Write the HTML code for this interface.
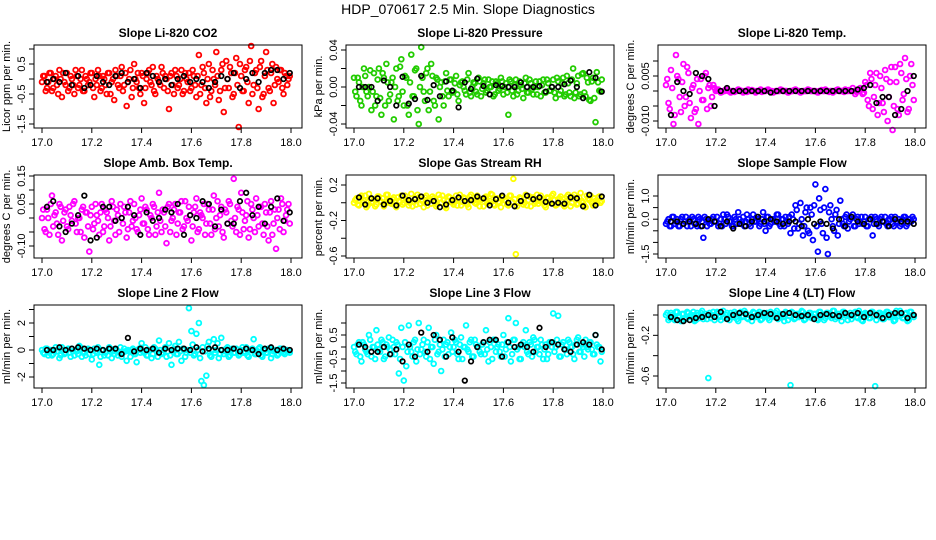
<!DOCTYPE html>
<html><head><meta charset="utf-8"><style>
html,body{margin:0;padding:0;background:#fff;}
svg{display:block;font-family:"Liberation Sans",sans-serif;}
</style></head><body>
<svg id="chart" width="936" height="540" viewBox="0 0 936 540" xmlns="http://www.w3.org/2000/svg">
<rect width="936" height="540" fill="#fff"/>
<text x="468" y="14" font-size="14" text-anchor="middle">HDP_070617  2.5 Min. Slope Diagnostics</text>
</svg>
<script>
const times=[17.00,17.01,17.02,17.03,17.04,17.05,17.06,17.07,17.08,17.09,17.10,17.11,17.12,17.13,17.14,17.15,17.16,17.17,17.18,17.19,17.20,17.21,17.22,17.23,17.24,17.25,17.26,17.27,17.28,17.29,17.30,17.31,17.32,17.33,17.34,17.35,17.36,17.37,17.38,17.39,17.40,17.41,17.42,17.43,17.44,17.45,17.46,17.47,17.48,17.49,17.50,17.51,17.52,17.53,17.54,17.55,17.56,17.57,17.58,17.59,17.60,17.61,17.62,17.63,17.64,17.65,17.66,17.67,17.68,17.69,17.70,17.71,17.72,17.73,17.74,17.75,17.76,17.77,17.78,17.79,17.80,17.81,17.82,17.83,17.84,17.85,17.86,17.87,17.88,17.89,17.90,17.91,17.92,17.93,17.94,17.95,17.96,17.97,17.98,17.99];
const times2=[17.005,17.015,17.025,17.035,17.045,17.055,17.065,17.075,17.085,17.095,17.105,17.115,17.125,17.135,17.145,17.155,17.165,17.175,17.185,17.195,17.205,17.215,17.225,17.235,17.245,17.255,17.265,17.275,17.285,17.295,17.305,17.315,17.325,17.335,17.345,17.355,17.365,17.375,17.385,17.395,17.405,17.415,17.425,17.435,17.445,17.455,17.465,17.475,17.485,17.495,17.505,17.515,17.525,17.535,17.545,17.555,17.565,17.575,17.585,17.595,17.605,17.615,17.625,17.635,17.645,17.655,17.665,17.675,17.685,17.695,17.705,17.715,17.725,17.735,17.745,17.755,17.765,17.775,17.785,17.795,17.805,17.815,17.825,17.835,17.845,17.855,17.865,17.875,17.885,17.895,17.905,17.915,17.925,17.935,17.945,17.955,17.965,17.975,17.985,17.995];
const blackTimes=[17.020,17.045,17.070,17.095,17.120,17.145,17.170,17.195,17.220,17.245,17.270,17.295,17.320,17.345,17.370,17.395,17.420,17.445,17.470,17.495,17.520,17.545,17.570,17.595,17.620,17.645,17.670,17.695,17.720,17.745,17.770,17.795,17.820,17.845,17.870,17.895,17.920,17.945,17.970,17.995];
const xTicks=[17.0,17.2,17.4,17.6,17.8,18.0];
const xTickLabels=["17.0","17.2","17.4","17.6","17.8","18.0"];
const titles=["Slope Li-820 CO2","Slope Li-820 Pressure","Slope Li-820 Temp.","Slope Amb. Box Temp.","Slope Gas Stream RH","Slope Sample Flow","Slope Line 2 Flow","Slope Line 3 Flow","Slope Line 4 (LT) Flow"];
const yTitles=["Licor ppm per min.","kPa per min.","degrees C per min.","degrees C per min.","percent per min.","ml/min per min.","ml/min per min.","ml/min per min.","ml/min per min."];
const colors=["#ff0000","#22cc00","#ff00ff","#ff00ff","#ffff00","#0000ff","#00ffff","#00ffff","#00ffff"];
const yTicks=[[1,0.5,0,-0.5,-1,-1.5],[0.04,0.02,0,-0.02,-0.04],[0.01,0.005,0,-0.005,-0.01],[0.15,0.1,0.05,0,-0.05,-0.1],[0.2,0,-0.2,-0.4,-0.6],[1,0.5,0,-0.5,-1,-1.5],[3,2,1,0,-1,-2],[1,0.5,0,-0.5,-1,-1.5],[0,-0.2,-0.4,-0.6]];
const yTickLabels=[["","0.5","","-0.5","","-1.5"],["0.04","","0.00","","-0.04"],["","0.005","","","-0.010"],["0.15","","0.05","","","-0.10"],["0.2","","-0.2","","-0.6"],["1.0","","0.0","","","-1.5"],["","2","","0","","-2"],["","0.5","","-0.5","","-1.5"],["","-0.2","","-0.6"]];
const co2=[-0.1,0.1,-0.3,0.2,-0.4,0.0,-0.2,0.3,-0.6,-0.1,0.2,-0.3,0.0,-0.5,0.1,-0.2,0.3,-0.4,0.0,-0.1,0.2,-0.6,-0.2,0.1,-0.3,0.0,-0.5,0.2,-0.1,-0.7,0.1,-0.3,0.4,-0.2,-0.9,0.0,-0.6,0.5,-0.1,-0.3,0.2,-0.8,0.0,0.3,-0.2,-0.4,0.1,-0.1,0.4,-0.3,0.0,-1.0,0.2,-0.5,0.1,-0.2,0.3,-0.4,0.0,0.2,-0.3,0.1,-0.6,0.8,-0.2,0.2,-0.8,0.5,-0.4,0.0,0.9,-0.7,0.3,-1.1,0.6,-0.3,0.2,-0.5,0.7,-1.6,0.1,-0.4,0.4,-0.8,1.1,-0.2,0.3,-1.0,0.6,-0.5,0.9,-0.3,0.2,-0.8,0.4,-0.1,0.3,-0.5,0.1,0.0];
const co2B=[0.1,-0.4,-0.1,0.2,-0.3,0.1,-0.5,0.0,0.2,-0.2,-0.4,0.1,-0.2,0.3,-0.3,0.0,-0.4,0.1,-0.2,0.2,-0.3,0.0,0.3,-0.4,0.1,-0.2,0.2,-0.5,0.0,0.3,-0.2,0.1,-0.4,0.2,-0.1,0.3,-0.3,0.0,0.2,-0.5,0.1,-0.3,0.2,-0.1,0.4,-0.5,0.0,-0.2,0.2,0.1,-0.4,0.1,-0.2,0.3,-0.3,0.0,-0.5,0.2,-0.1,-0.4,0.3,-0.2,0.1,-0.5,0.4,-0.3,0.0,-0.6,0.3,-0.2,0.1,-0.4,0.5,-0.3,0.0,0.4,-0.6,0.2,-0.2,0.5,-0.4,0.3,-0.1,0.6,-0.5,0.2,-0.3,0.4,-0.6,0.1,0.3,-0.4,0.5,-0.2,0.0,0.3,-0.3,0.2,-0.2,0.1];
const co2Black=[-0.1,0.0,-0.1,0.2,-0.2,0.1,-0.3,-0.2,0.1,-0.1,-0.2,0.1,0.2,-0.1,0.0,-0.3,0.2,0.1,-0.1,0.0,-0.2,0.0,0.1,-0.1,0.0,-0.1,-0.3,-0.1,0.1,0.0,0.2,-0.3,0.0,0.2,-0.1,0.2,0.3,0.3,0.0,0.2];
const pressure=[0.01,-0.01,0.005,-0.02,0.02,-0.005,0.0,-0.025,0.015,-0.01,0.02,-0.03,0.01,0.025,-0.015,0.005,-0.035,0.02,-0.01,0.03,-0.02,0.01,-0.03,0.035,-0.01,0.02,-0.04,0.043,-0.005,0.015,-0.025,0.025,-0.015,0.01,-0.035,0.005,-0.02,0.015,-0.01,0.008,-0.005,0.012,-0.015,0.005,0.0,-0.008,0.015,-0.01,0.005,-0.005,0.01,-0.01,0.004,-0.006,0.008,0.0,-0.01,0.006,-0.004,0.01,-0.008,0.004,-0.03,0.006,-0.01,0.008,-0.004,0.002,-0.012,0.01,-0.006,0.004,-0.008,0.006,0.0,-0.01,0.008,-0.006,0.004,-0.004,0.008,-0.012,0.006,-0.004,0.01,-0.008,0.004,-0.01,0.02,-0.006,0.012,-0.008,0.015,-0.01,0.005,-0.015,0.01,-0.038,0.005,-0.005];
const pressureB=[-0.005,0.01,-0.015,0.0,0.012,-0.01,0.018,-0.005,-0.02,0.008,-0.012,0.015,-0.02,0.005,-0.008,0.01,0.0,-0.015,0.022,-0.005,0.012,-0.02,0.005,-0.01,0.018,-0.025,0.0,0.01,-0.015,0.02,-0.005,0.012,-0.02,0.008,0.0,-0.01,0.006,-0.004,0.008,-0.006,0.004,-0.008,0.002,0.006,-0.004,0.008,-0.006,0.0,0.004,-0.008,0.006,-0.002,0.008,-0.004,0.0,0.006,-0.008,0.004,-0.002,0.006,0.0,-0.006,0.008,-0.004,0.002,-0.008,0.006,-0.002,0.004,-0.006,0.008,-0.002,0.0,-0.008,0.006,0.002,-0.006,0.008,-0.004,0.0,-0.006,0.01,-0.008,0.004,-0.01,0.012,-0.006,0.008,-0.012,0.004,-0.01,0.014,-0.006,0.01,-0.014,0.006,-0.012,0.016,-0.004,0.008];
const pressureBlack=[0.0,0.0,0.0,-0.015,0.007,0.0,-0.02,0.011,-0.018,-0.013,0.012,-0.014,0.002,-0.01,0.006,-0.004,-0.022,0.005,-0.002,0.009,0.001,-0.008,0.002,0.001,0.0,0.0,0.005,0.0,0.0,0.001,-0.005,0.0,0.0,0.003,0.007,0.0,-0.012,0.016,0.01,-0.005];
const temp=[0.002,-0.004,0.007,-0.011,0.012,0.004,-0.007,0.009,-0.002,0.006,-0.009,0.002,-0.006,-0.011,0.004,-0.003,0.006,0.001,-0.005,0.002,0.0,0.0005,-0.0005,0.0,0.0005,0.0,-0.0005,0.0,0.0,0.0005,0.0,-0.0005,0.0,0.0005,0.0,0.0,-0.0005,0.0,0.0005,0.0,0.0,0.0005,0.0,-0.0005,0.0,0.0,0.0005,0.0,0.0,-0.0005,0.0,0.0,0.0005,0.0,-0.0005,0.0,0.0,0.0005,0.0,0.0,0.0,-0.0005,0.0,0.0,0.0005,0.0,0.0,-0.0005,0.0,0.0005,0.0,0.0,0.0005,0.0,0.0,0.001,-0.001,0.0,0.001,-0.001,0.003,-0.003,0.006,-0.006,0.002,-0.008,0.005,-0.004,0.007,-0.01,0.003,-0.013,0.008,-0.006,0.009,-0.003,0.011,-0.007,0.005,0.002];
const tempB=[0.004,-0.006,0.001,-0.008,0.005,-0.002,0.003,-0.005,0.008,-0.004,0.001,-0.007,0.004,0.0,-0.003,0.005,-0.006,0.002,-0.002,0.001,0.0003,0.0,-0.0003,0.0,0.0003,0.0,0.0,-0.0003,0.0,0.0003,0.0,0.0,-0.0003,0.0,0.0003,0.0,0.0,0.0,-0.0003,0.0,0.0003,0.0,0.0,-0.0003,0.0,0.0,0.0003,0.0,0.0,-0.0003,0.0,0.0003,0.0,0.0,-0.0003,0.0,0.0,0.0003,0.0,0.0,-0.0003,0.0,0.0003,0.0,0.0,-0.0003,0.0,0.0,0.0003,0.0,0.0,-0.0003,0.0,0.0003,0.0,0.0,-0.0003,0.0,0.0006,-0.0006,0.002,-0.005,0.004,-0.002,0.006,-0.004,0.001,-0.007,0.004,-0.002,0.008,-0.005,0.003,-0.008,0.006,-0.001,0.004,-0.006,0.009,-0.003];
const tempBlack=[-0.008,0.003,0.0,-0.001,0.006,0.005,0.004,-0.005,0.0,0.001,0,0,0,0,0,0,-0.0005,0,0,0,0,0,0,0,0,0,0,0,0,0,0.0005,0.001,0.002,-0.004,-0.002,-0.002,-0.008,-0.006,0.0,0.005];
const amb=[0.0,-0.04,0.03,-0.06,0.08,0.01,-0.02,0.05,-0.08,0.02,-0.03,0.04,-0.01,0.06,-0.05,0.0,0.03,-0.07,0.02,-0.12,0.04,-0.02,0.01,-0.06,0.05,-0.03,0.02,-0.08,0.06,-0.01,0.03,-0.05,0.0,0.04,-0.07,0.02,-0.03,0.05,-0.04,0.01,0.07,-0.02,0.03,-0.06,0.0,0.04,-0.03,0.09,-0.05,0.02,-0.09,0.05,-0.01,0.03,-0.06,0.02,0.06,-0.03,0.0,0.04,-0.08,0.02,0.07,-0.04,0.01,0.05,-0.02,0.03,-0.06,0.08,0.0,-0.03,0.04,-0.07,0.02,0.06,-0.01,0.14,-0.05,0.03,0.09,-0.04,0.01,-0.07,0.05,0.0,0.07,-0.03,0.04,-0.06,0.02,-0.08,0.06,-0.02,-0.11,0.03,0.07,-0.05,0.01,0.05];
const ambB=[0.03,-0.05,0.0,0.05,-0.03,0.02,-0.06,0.04,-0.01,0.03,-0.04,0.01,0.05,-0.02,0.0,-0.05,0.04,0.02,-0.03,0.01,-0.04,0.05,-0.01,0.02,-0.05,0.03,0.0,-0.03,0.04,-0.06,0.01,0.05,-0.02,0.02,-0.04,0.06,-0.01,0.0,-0.05,0.03,-0.02,0.04,-0.04,0.01,0.05,-0.06,0.02,-0.01,0.03,-0.03,0.04,-0.05,0.0,0.05,-0.02,0.02,-0.04,0.06,-0.01,0.01,-0.03,0.04,-0.05,0.02,0.0,-0.06,0.05,-0.02,0.03,-0.04,0.06,0.01,-0.05,0.03,-0.02,0.05,-0.03,0.0,0.04,-0.06,0.02,-0.01,0.06,-0.04,0.03,-0.05,0.01,0.04,-0.02,0.05,-0.03,0.02,-0.06,0.03,0.0,-0.04,0.05,-0.01,0.03,-0.02];
const ambBlack=[0.04,0.06,-0.03,-0.05,-0.02,0.01,0.08,-0.08,-0.07,0.04,0.04,-0.01,0.0,0.04,0.01,-0.06,0.02,-0.01,0.0,0.03,0.02,0.05,-0.06,0.01,0.0,0.06,0.05,-0.03,0.03,-0.02,-0.02,0.06,0.09,0.01,0.04,-0.02,0.04,0.07,-0.01,0.02];
const rh=[0.0,0.05,-0.03,0.08,0.02,-0.05,0.1,0.0,0.04,-0.02,0.07,0.01,-0.04,0.09,0.03,-0.01,0.06,-0.05,0.02,0.08,0.0,0.04,-0.03,0.1,0.01,-0.02,0.06,0.03,-0.05,0.08,0.02,-0.01,0.05,-0.04,0.09,0.0,0.03,-0.06,0.07,0.01,-0.02,0.08,0.04,-0.03,0.06,0.0,-0.05,0.09,0.02,-0.01,0.05,0.03,-0.04,0.07,0.0,0.1,-0.02,0.04,0.01,-0.05,0.06,0.02,-0.03,0.08,0.27,-0.58,0.0,0.05,-0.02,0.09,0.03,-0.04,0.06,0.01,-0.01,0.08,0.02,-0.05,0.05,0.0,0.1,-0.03,0.04,0.07,-0.02,0.01,0.09,-0.04,0.06,0.03,-0.01,0.11,0.0,-0.05,0.05,0.08,-0.03,0.02,0.06,0.0];
const rhB=[0.03,-0.02,0.06,0.0,0.08,-0.03,0.04,0.01,-0.04,0.07,0.02,0.05,-0.01,0.09,0.0,0.04,-0.03,0.06,0.01,-0.02,0.08,0.03,0.0,-0.04,0.05,0.09,-0.01,0.02,0.06,-0.03,0.04,0.07,0.0,-0.02,0.05,0.08,-0.04,0.02,0.06,0.0,0.03,-0.03,0.09,0.01,0.05,-0.02,0.07,0.03,0.0,0.08,-0.04,0.04,0.06,-0.01,0.02,0.09,-0.03,0.05,0.0,0.07,0.03,-0.02,0.08,0.01,0.04,-0.04,0.06,0.02,0.0,-0.03,0.07,0.05,-0.01,0.09,0.02,0.04,-0.03,0.06,0.0,0.08,0.03,-0.02,0.05,0.01,-0.04,0.07,0.04,0.0,0.09,-0.02,0.06,0.02,-0.03,0.08,0.03,0.0,0.05,-0.01,0.07,0.02];
const rhBlack=[0.06,-0.02,0.05,0.05,-0.02,0.02,-0.03,0.08,0.03,0.04,0.07,0.0,0.02,-0.05,-0.02,0.03,0.06,0.02,0.03,0.07,0.05,-0.03,0.04,0.08,0.0,-0.04,0.02,0.08,0.04,0.06,0.01,-0.01,0.0,-0.01,0.06,0.05,-0.04,0.09,-0.03,0.07];
const sample=[-0.2,0.0,-0.3,0.1,-0.1,-0.3,0.0,-0.2,0.1,-0.1,-0.3,0.0,-0.2,0.1,-0.3,-0.8,0.0,-0.1,-0.2,0.1,-0.1,-0.3,0.0,0.2,-0.2,0.1,-0.1,-0.3,0.0,0.3,-0.2,0.1,-0.1,0.0,-0.3,0.2,-0.1,0.0,-0.2,0.3,-0.5,0.1,-0.2,0.0,-0.1,0.2,-0.3,0.0,0.1,-0.2,-0.6,0.0,0.6,-0.4,0.7,-0.7,0.3,-0.5,0.5,-0.9,1.5,-1.4,0.4,-0.6,1.3,-1.5,0.6,-0.3,0.2,-0.7,0.8,-0.2,0.1,-0.4,0.0,0.2,-0.3,0.1,-0.1,-0.2,0.1,-0.3,0.0,-0.7,0.1,-0.2,0.0,-0.1,0.1,-0.3,0.0,-0.2,0.1,-0.1,-0.3,0.0,0.1,-0.2,0.0,0.1];
const sampleB=[-0.1,-0.3,0.1,-0.2,0.0,-0.3,0.1,-0.1,-0.3,0.0,0.1,-0.2,-0.3,0.0,-0.1,0.1,-0.3,-0.2,0.0,-0.1,0.1,-0.2,-0.3,0.0,0.2,-0.1,-0.3,0.1,-0.2,0.0,-0.1,-0.3,0.2,-0.2,0.0,-0.1,0.1,-0.3,0.0,-0.2,0.1,-0.3,0.0,-0.1,0.2,-0.2,0.0,-0.3,-0.1,0.1,0.2,-0.4,0.4,-0.2,0.0,-0.3,0.5,-0.6,0.2,0.6,-0.3,0.9,-0.2,0.5,-0.8,0.3,0.0,-0.5,0.4,-0.2,0.0,-0.3,0.2,-0.1,0.1,-0.3,0.0,-0.2,0.1,-0.1,-0.3,0.0,0.1,-0.2,0.0,-0.3,0.1,-0.1,-0.2,0.0,0.1,-0.3,-0.1,0.0,-0.2,0.1,-0.3,0.0,-0.1,0.0];
const sampleBlack=[-0.1,-0.1,-0.2,-0.1,-0.2,-0.3,0.0,-0.1,-0.3,-0.1,-0.4,-0.2,-0.3,-0.1,0.1,-0.1,0.0,-0.1,-0.2,-0.1,-0.1,-0.3,0.0,-0.2,-0.1,-0.2,-0.4,0.0,-0.3,0.1,-0.1,-0.2,0.0,-0.2,-0.1,-0.3,0.0,-0.1,-0.1,-0.2];
const line2=[0.0,-0.3,0.1,-0.2,-0.4,0.0,-0.1,-0.6,0.2,-0.3,0.0,-0.2,0.1,-0.4,-0.1,0.3,-0.5,-0.2,0.0,-0.3,-0.7,0.1,-0.2,-1.1,0.0,-0.4,-0.1,0.2,-0.6,-0.3,0.0,-0.2,-0.5,0.1,-0.8,-0.1,0.0,-0.3,-0.9,0.1,0.5,-0.2,-0.4,0.0,-0.6,0.2,-0.1,0.7,-0.3,0.0,-0.5,0.5,-1.1,0.1,-0.3,0.6,-0.8,0.0,-0.2,3.1,1.4,-0.4,1.2,2.0,-2.3,-2.6,-1.9,0.6,-0.5,0.8,0.0,-0.6,0.9,-0.3,0.1,-0.5,0.0,-0.2,0.1,-0.4,0.0,-0.2,0.2,-0.5,0.0,0.8,-0.3,0.1,-0.4,0.0,-0.2,0.1,-0.6,-0.1,0.0,-0.3,0.1,-0.2,0.0,-0.1];
const line2B=[-0.2,0.1,-0.4,0.0,-0.3,0.2,-0.1,-0.4,0.0,-0.2,0.1,-0.5,-0.1,0.0,-0.3,0.2,-0.2,-0.4,0.1,0.0,-0.3,-0.1,0.2,-0.5,0.0,-0.2,-0.4,0.1,-0.1,0.0,-0.4,0.2,-0.2,-0.1,0.0,-0.5,0.1,-0.3,0.0,-0.2,-0.1,0.2,-0.4,0.0,-0.3,0.1,-0.5,0.0,-0.2,0.2,-0.1,-0.4,0.0,0.3,-0.3,-0.1,0.1,-0.5,0.0,-0.2,0.4,-0.3,0.0,-0.6,0.2,-0.1,0.3,-0.4,0.0,-0.2,0.5,-0.3,0.0,-0.1,0.2,-0.4,0.1,-0.2,0.0,-0.3,0.2,-0.1,-0.4,0.0,0.1,-0.3,-0.1,0.2,-0.5,0.0,-0.2,0.1,-0.3,0.0,-0.4,0.1,-0.1,-0.3,0.0,-0.2];
const line2Black=[0.0,0.0,0.2,0.0,0.1,0.2,0.1,0.0,0.1,0.0,0.1,0.1,-0.3,0.9,-0.1,0.1,0.0,0.1,-0.2,0.1,0.0,0.1,0.1,0.0,0.2,-0.1,0.1,0.2,0.0,0.0,0.1,-0.1,0.1,0.0,-0.3,0.1,0.2,0.0,0.1,0.0];
const line3=[0.0,-0.3,0.2,-0.6,0.1,-0.2,0.5,-0.4,0.0,0.7,-0.1,0.3,-0.5,0.1,0.4,-0.3,0.0,0.2,-1.1,0.8,-1.4,-0.8,0.9,-0.2,0.2,-0.6,1.0,-0.1,0.3,-0.4,0.8,0.0,-0.7,0.5,-0.2,-1.0,0.3,0.1,-0.3,0.6,0.0,0.2,-0.5,0.4,0.0,0.9,-0.2,0.3,-0.4,0.1,0.0,-0.3,0.2,0.7,-0.6,0.0,0.3,-0.2,0.1,-0.4,0.5,-0.1,1.2,-0.6,0.3,1.0,0.0,-0.5,0.2,0.7,-0.3,0.1,0.4,-0.2,0.0,0.3,-0.5,0.1,-0.3,0.2,1.4,0.0,1.3,-0.4,0.2,-0.1,0.3,0.0,-0.3,0.1,0.4,-0.2,0.0,0.3,-0.1,0.2,-0.3,0.5,0.0,-0.6];
const line3B=[-0.2,0.1,-0.4,0.2,-0.1,-0.3,0.3,0.0,-0.5,0.1,-0.2,0.2,-0.4,0.0,-0.1,0.3,-0.3,0.1,-0.5,0.0,0.2,-0.2,0.0,-0.4,0.3,-0.1,-0.3,0.1,-0.2,0.2,-0.5,0.0,0.3,-0.3,0.1,-0.1,-0.4,0.2,0.0,-0.2,0.3,-0.3,0.1,-0.5,0.0,-0.1,0.2,-0.4,0.3,0.0,-0.2,0.1,-0.3,-0.1,0.2,-0.5,0.3,0.0,-0.2,0.1,-0.4,0.2,0.0,-0.3,0.3,-0.1,-0.5,0.1,0.0,-0.2,0.2,-0.4,0.3,0.0,-0.3,0.1,-0.1,-0.5,0.2,0.0,-0.2,0.3,-0.4,0.1,-0.1,-0.3,0.2,0.0,-0.5,0.3,-0.2,0.1,-0.4,0.0,0.2,-0.1,-0.3,0.1,0.0,-0.2];
const line3Black=[0.1,0.0,-0.2,-0.2,0.0,-0.3,-0.1,-0.6,0.1,-0.4,0.6,-0.2,0.5,0.3,-0.4,0.4,-0.2,-1.4,-0.6,0.0,0.2,0.3,0.3,-0.4,0.2,0.0,0.1,0.0,-0.2,0.8,0.0,0.2,0.1,-0.1,-0.2,0.1,0.2,0.1,0.5,-0.1];
const line4=[0.0,-0.05,0.02,-0.03,0.03,-0.01,-0.06,0.01,-0.04,0.02,-0.02,0.03,-0.05,0.0,0.02,-0.04,0.01,-0.62,-0.03,0.03,-0.01,0.02,-0.05,0.04,0.0,-0.03,0.02,-0.02,0.01,-0.06,0.03,-0.01,0.02,-0.04,0.0,0.03,-0.02,0.01,-0.05,0.02,0.0,-0.03,0.03,-0.01,0.02,-0.04,0.01,-0.02,0.03,-0.05,-0.69,0.02,-0.03,0.01,-0.01,0.03,-0.04,0.0,0.02,-0.02,0.01,-0.05,0.03,0.0,-0.03,0.02,-0.01,0.04,-0.04,0.01,-0.02,0.03,0.0,-0.05,0.02,-0.01,0.03,-0.03,0.01,-0.06,0.02,0.0,-0.03,0.03,-0.70,-0.01,0.02,-0.04,0.01,0.03,-0.02,0.0,-0.05,0.02,0.04,-0.03,0.01,-0.06,0.03,0.0];
const line4B=[0.02,-0.03,0.0,-0.05,0.03,-0.02,0.01,-0.04,0.03,-0.01,0.0,-0.06,0.02,-0.03,0.04,-0.01,-0.04,0.02,0.0,-0.05,0.03,-0.02,0.01,-0.03,0.02,-0.05,0.0,0.03,-0.04,0.01,-0.02,0.04,-0.03,0.0,-0.06,0.02,-0.01,0.03,-0.04,0.0,0.02,-0.05,0.01,-0.02,0.04,-0.03,0.0,-0.06,0.02,-0.01,0.03,-0.04,0.01,-0.02,0.04,-0.05,0.0,0.02,-0.03,0.01,-0.04,0.03,-0.01,-0.05,0.02,0.0,-0.03,0.04,-0.02,0.01,-0.06,0.03,-0.01,0.0,-0.04,0.02,-0.02,0.04,-0.05,0.01,0.0,-0.03,0.03,-0.01,-0.05,0.02,0.0,-0.04,0.03,-0.02,0.01,-0.06,0.04,-0.01,0.0,-0.03,0.02,-0.05,0.03,-0.02];
const line4Black=[-0.02,-0.05,-0.06,-0.05,-0.03,-0.02,0.0,-0.02,0.03,-0.04,0.0,0.02,0.01,-0.02,0.0,0.02,0.01,-0.03,0.01,0.02,0.0,-0.01,0.0,-0.04,0.0,0.01,0.0,-0.01,0.02,0.0,0.02,-0.02,0.02,0.0,-0.03,0.0,0.02,0.02,-0.03,0.0];

const series=[co2,pressure,temp,amb,rh,sample,line2,line3,line4];
const series2=[co2B,pressureB,tempB,ambB,rhB,sampleB,line2B,line3B,line4B];
const blackSeries=[co2Black,pressureBlack,tempBlack,ambBlack,rhBlack,sampleBlack,line2Black,line3Black,line4Black];
const yDomains=[[0.5,-1.5],[0.04,-0.04],[0.005,-0.010],[0.15,-0.10],[0.2,-0.6],[1.0,-1.5],[2,-2],[0.5,-1.5],[0,-0.6]];
const yRefPx=[[19,79],[5,79],[31,76],[1,71],[10,81],[21,79],[18,72],[30,78],[10,71]];

const NS="http://www.w3.org/2000/svg";
const svg=document.getElementById('chart');
function el(tag,attrs,parent){const e=document.createElementNS(NS,tag);for(const k in attrs)e.setAttribute(k,attrs[k]);(parent||svg).appendChild(e);return e;}

for(let p=0;p<9;p++){
  const r=Math.floor(p/3),c=p%3;
  const L=c*312+34,R=c*312+302,T=45+r*130,B=T+83;
  const xs=v=>L+8+(v-17.0)*249;
  const d=yDomains[p],rp=yRefPx[p];
  const ys=v=>T+rp[0]+(v-d[0])*(rp[1]-rp[0])/(d[1]-d[0]);
  const g=el('g',{});
  
  
  const t=el('text',{x:(L+R)/2,y:T-8,'font-size':12,'font-weight':'bold','text-anchor':'middle'},g);
  t.textContent=titles[p];
  
  
  const pts=el('g',{fill:'none',stroke:colors[p],'stroke-width':1.8},g);
  
  
  series[p].forEach((v,i)=>{if(times[i]===undefined)return;const ci=el('circle',{cx:xs(times[i]),cy:ys(v),r:2.4},pts);
    
    });
  series2[p].forEach((v,i)=>{if(times2[i]===undefined)return;const ci=el('circle',{cx:xs(times2[i]),cy:ys(v),r:2.4},pts);
    
    });
  const bpts=el('g',{fill:'none',stroke:'#000','stroke-width':1.7},g);
  
  
  blackSeries[p].forEach((v,i)=>{const ci=el('circle',{cx:xs(blackTimes[i]),cy:ys(v),r:2.3},bpts);
    
    });
  const box=el('rect',{x:L,y:T,width:R-L,height:B-T,fill:'none',stroke:'#000','stroke-width':1},g);
  
  
  const xa=el('g',{},g);
  
  
  xTicks.forEach((v,i)=>{el('line',{x1:xs(v),x2:xs(v),y1:B,y2:B+5,stroke:'#000'},xa);
    const tx=el('text',{x:xs(v),y:B+18,'font-size':11,'text-anchor':'middle'},xa);tx.textContent=xTickLabels[i];
    
    });
  const ya=el('g',{},g);
  
  
  yTicks[p].forEach((v,i)=>{const y=ys(v);el('line',{x1:L-5,x2:L,y1:y,y2:y,stroke:'#000'},ya);
    if(yTickLabels[p][i]){const tx=el('text',{x:L-9,y:y,'font-size':11,'text-anchor':'middle',transform:`rotate(-90 ${L-9} ${y})`},ya);tx.textContent=yTickLabels[p][i];
    
    }});
  const yt=el('text',{x:L-24,y:(T+B)/2,'font-size':11,'text-anchor':'middle',transform:`rotate(-90 ${L-24} ${(T+B)/2})`},g);
  yt.textContent=yTitles[p];
  
  
}
</script>
</body></html>
